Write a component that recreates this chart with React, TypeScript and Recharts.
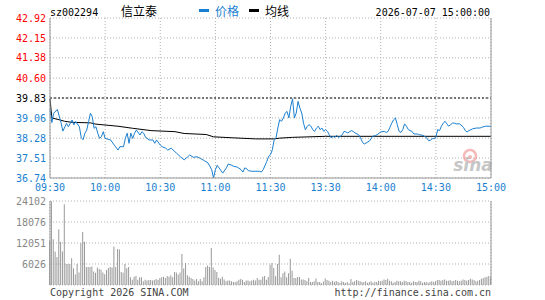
import { LineChart, Line, BarChart, Bar, XAxis, YAxis, CartesianGrid, ReferenceLine } from 'recharts';

const stockCode = 'sz002294';
const stockName = '信立泰';
const stamp = '2026-07-07 15:00:00';
const legendPrice = '价格';
const legendAvg = '均线';
const copyright = 'Copyright 2026 SINA.COM';
const siteUrl = 'http://finance.sina.com.cn';

const prevClose = 39.83;
const priceTicks = [36.74, 37.51, 38.28, 39.06, 39.83, 40.6, 41.38, 42.15, 42.92];
const pctLabels = ['-7.76%', '-5.82%', '-3.88%', '-1.94%', '0.00%', '+1.94%', '+3.88%', '+5.82%', '+7.76%'];
const timeTicks = [0, 30, 60, 90, 120, 150, 180, 210, 240];
const timeLabels = ['09:30', '10:00', '10:30', '11:00', '11:30', '13:30', '14:00', '14:30', '15:00'];
const volumeTicks = [0, 6026, 12051, 18076, 24102];

// minute index from the open (0 = 09:30, 120 = 11:30/13:00, 240 = 15:00)
const priceMinutes = [
  0, 1, 2, 4, 6, 7, 9, 10, 12, 13, 14, 16, 17, 18, 19, 20, 21, 22, 23, 24, 25, 26, 27, 28, 29, 30,
  33, 35, 37, 38, 40, 41, 42, 43, 44, 45, 46, 47, 49, 50, 51, 52, 54, 56, 57, 58, 60, 61, 63, 64,
  66, 67, 69, 71, 73, 75, 76, 78, 80, 82, 84, 86, 88, 89, 90, 91, 92, 94, 96, 97, 99, 100, 102,
  104, 105, 106, 107, 108, 110, 112, 114, 115, 116, 118, 119, 120, 121, 122, 123, 124, 125, 126,
  127, 128, 129, 130, 131, 132, 133, 134, 135, 136, 137, 138, 139, 140, 141, 142, 143, 144, 145,
  146, 147, 148, 149, 150, 151, 152, 153, 154, 155, 156, 157, 158, 159, 160, 161, 162, 164, 165,
  166, 168, 169, 170, 171, 172, 174, 175, 176, 177, 178, 180, 182, 183, 184, 185, 186, 187, 188,
  189, 190, 191, 192, 193, 194, 195, 196, 197, 198, 200, 201, 203, 205, 206, 207, 208, 209, 210,
  211, 212, 213, 214, 215, 216, 217, 218, 219, 220, 221, 223, 225, 226, 227, 228, 230, 232, 234,
  235, 237, 239, 240,
];
const prices = [
  39.4, 38.88, 39.24, 39.39, 38.88, 38.55, 38.85, 38.72, 38.98, 38.79, 38.92, 38.72, 38.3, 38.22,
  38.47, 38.59, 38.92, 39.24, 39.11, 38.66, 38.72, 38.47, 38.27, 38.34, 38.53, 38.27,
  38.21, 38.01, 37.82, 37.95, 37.95, 38.27, 38.47, 38.08, 38.47, 38.27, 38.47, 38.59, 38.4, 38.53,
  38.47, 38.31, 38.21, 38.21, 38.08, 38.21, 38.01, 37.95, 37.89, 37.82,
  37.89, 37.82, 37.69, 37.56, 37.44, 37.56, 37.63, 37.54, 37.56, 37.49, 37.41, 37.32, 37.06, 36.74,
  37.06, 37.23, 37.13, 36.93, 37.13, 37.28, 37.23, 37.19, 37.16,
  37.06, 36.97, 37.13, 37.1, 37.02, 37.0, 37.0, 37.0, 36.97, 37.06, 37.38, 37.58, 37.64, 37.83,
  38.22, 38.29, 38.67, 39.0, 38.93,
  39.06, 39.25, 39.31, 39.06, 39.51, 39.8, 39.06, 39.25, 39.7, 39.44, 39.25, 38.85, 38.6, 38.74,
  38.8, 38.74, 38.61, 38.54, 38.67,
  38.74, 38.61, 38.67, 38.54, 38.61, 38.54, 38.41, 38.29, 38.35, 38.31, 38.39, 38.31, 38.35,
  38.41, 38.54, 38.52, 38.48, 38.57, 38.54,
  38.48, 38.41, 38.29, 38.13, 38.05, 38.09, 38.18, 38.29, 38.37, 38.37, 38.41, 38.52, 38.54,
  38.5, 38.54, 38.7, 38.86, 38.99, 39.06,
  38.8, 38.54, 38.5, 38.61, 38.83, 38.74, 38.61, 38.57, 38.54, 38.44, 38.44, 38.41, 38.39, 38.29,
  38.18, 38.2, 38.26, 38.26, 38.31,
  38.61, 38.57, 38.74, 38.86, 38.93, 38.83, 38.74, 38.8, 38.86, 38.86, 38.83, 38.83, 38.7, 38.57,
  38.52, 38.57, 38.64, 38.67, 38.67,
  38.7, 38.74, 38.74, 38.73,
];

const avgMinutes = [0, 1, 5, 8, 12, 22, 25, 37, 45, 55, 68, 73, 85, 89, 100, 112, 122, 125, 132, 150, 240];
const avgPrices = [
  39.8, 39.06, 38.99, 38.93, 38.89, 38.87, 38.82, 38.74, 38.66, 38.57, 38.53, 38.46, 38.42, 38.33,
  38.29, 38.25, 38.25, 38.28, 38.31, 38.35, 38.35,
];

const volumes = [
  12600, 24000, 13100, 9600, 8000, 16000, 12400, 9600, 23200, 6000, 6000, 6000, 7700, 4800, 3000,
  6000, 3600, 12000, 15200, 12400, 5200, 5200, 5200, 5300, 3900, 3500, 5000, 4600, 4400, 3600, 3100,
  4300, 4900, 5200, 5000, 11000, 5200, 10300, 10200, 3700, 3500, 6000, 4800, 5200, 2200, 1500,
  2400, 2600, 1500, 2200, 2200, 1100, 1500, 1300, 1400, 1400, 1300, 1400, 1700, 1400, 2000,
  2200, 2400, 2000, 2600, 2400, 2800, 2200, 3700, 3600, 3000, 3600, 8900, 4700, 6300, 2800,
  2400, 2000, 1700, 1300, 1700, 1100, 1700, 1100, 2200, 5200, 5600, 5200, 10600, 5000, 4300,
  3700, 2100, 1800, 2400, 1600, 1100, 1300, 1300, 1100, 850, 850, 1100, 1500, 1700, 1500,
  850, 1300, 1300, 1100, 1300, 1500, 1300, 2000, 1500, 1500, 2400, 2600, 1500, 2300, 5800,
  6300, 4900, 2500, 6000, 8700, 2200, 3400, 3900, 2200, 3400, 7500, 4100, 2000, 2000, 2300,
  2300, 1600, 1600, 1400, 1100, 2000, 850, 850, 1100, 1900, 850, 850, 500, 1000, 1900,
  1400, 1200, 860, 1240, 900, 1150, 860, 670, 1050, 860, 670, 860, 480, 1700, 860,
  1050, 1400, 1240, 1050, 860, 860, 1050, 670, 860, 1050, 670, 950, 860, 1240, 1050,
  1240, 1600, 1435, 1800, 1240, 1050, 670, 860, 1240, 1050, 1050, 860, 1240, 1050, 860,
  860, 670, 1050, 860, 860, 1240, 1050, 670, 860, 860, 670, 860, 1050, 860, 1050,
  1435, 1435, 1240, 1435, 1600, 1240, 1240, 1435, 1050, 1240, 1435, 1240, 1050, 1240, 1600,
  1435, 1240, 1435, 1800, 1600, 1435, 1050, 1240, 1435, 1800, 2000, 2200, 2400, 2600, 2200,
];

const RED = '#ff0000';
const BLUE = '#1a7fd0';
const FRAME = '#999999';
const GRID = '#b0b0b0';
const MONO = '"DejaVu Sans Mono", monospace';
const CJK = '"Noto Sans CJK SC", sans-serif';

const priceByMin = new Map(priceMinutes.map((t, i) => [t, prices[i]]));
const avgByMin = new Map(avgMinutes.map((t, i) => [t, avgPrices[i]]));
const allMinutes = Array.from(new Set([...priceMinutes, ...avgMinutes])).sort((a, b) => a - b);
const priceData = allMinutes.map((t) => ({
  t,
  price: priceByMin.has(t) ? priceByMin.get(t) : null,
  avg: avgByMin.has(t) ? avgByMin.get(t) : null,
}));
const volumeData = volumes.map((v, t) => ({ t, v }));

const tickColor = (v: number) => (v > prevClose ? RED : v < prevClose ? BLUE : '#000');

function PriceTick(props: any) {
  const { x, y, payload } = props;
  const v = payload.value as number;
  return (
    <text x={x} y={y} dy={3.6} textAnchor="end" fill={tickColor(v)} fontSize={10} fontFamily={MONO}>
      {v.toFixed(2)}
    </text>
  );
}

function PctTick(props: any) {
  const { x, y, payload } = props;
  const v = payload.value as number;
  const idx = priceTicks.indexOf(v);
  return (
    <text x={x} y={y} dy={3.6} textAnchor="start" fill={tickColor(v)} fontSize={10} fontFamily={MONO}>
      {pctLabels[idx]}
    </text>
  );
}

function TimeTick(props: any) {
  const { x, y, payload } = props;
  const idx = timeTicks.indexOf(payload.value);
  return (
    <text x={x} y={y} dy={7.5} textAnchor="middle" fill={BLUE} fontSize={10} fontFamily={MONO}>
      {timeLabels[idx]}
    </text>
  );
}

function VolTick(props: any) {
  const { x, y, payload } = props;
  if (!payload.value) return <g />;
  return (
    <text x={x} y={y} dy={3.6} textAnchor="end" fill="#888" fontSize={10} fontFamily={MONO}>
      {payload.value}
    </text>
  );
}

export default function App() {
  return (
    <div style={{ position: 'absolute', left: 0, top: 0, width: 545, height: 300, background: '#fff' }}>
      <div style={{ position: 'absolute', left: 0, top: 0 }}>
        <LineChart width={545} height={198} data={priceData} margin={{ top: 18, right: 0, bottom: 0, left: 0 }}>
          <CartesianGrid yAxisId="left" stroke={GRID} strokeDasharray="1 2" />
          <XAxis
            xAxisId="top"
            orientation="top"
            type="number"
            dataKey="t"
            domain={[0, 240]}
            height={0}
            tick={false}
            tickLine={false}
            axisLine={{ stroke: FRAME }}
          />
          <XAxis
            type="number"
            dataKey="t"
            domain={[0, 240]}
            ticks={timeTicks}
            interval={0}
            height={20}
            tickSize={0}
            tickMargin={5}
            tickLine={false}
            axisLine={{ stroke: FRAME }}
            tick={(p: any) => <TimeTick {...p} />}
          />
          <YAxis
            yAxisId="left"
            width={50}
            domain={[36.74, 42.92]}
            ticks={priceTicks}
            interval={0}
            tickSize={4}
            tickMargin={0}
            tickLine={false}
            axisLine={{ stroke: FRAME }}
            tick={(p: any) => <PriceTick {...p} />}
          />
          <YAxis
            yAxisId="right"
            orientation="right"
            width={54}
            domain={[36.74, 42.92]}
            ticks={priceTicks}
            interval={0}
            tickSize={4}
            tickMargin={0}
            tickLine={false}
            axisLine={{ stroke: FRAME }}
            tick={(p: any) => <PctTick {...p} />}
          />
          <ReferenceLine yAxisId="left" y={prevClose} stroke="#000" strokeDasharray="2 2" />
          <Line
            yAxisId="left"
            type="linear"
            dataKey="avg"
            stroke="#000"
            strokeWidth={1}
            dot={false}
            connectNulls
            isAnimationActive={false}
          />
          <Line
            yAxisId="left"
            type="linear"
            dataKey="price"
            stroke={BLUE}
            strokeWidth={1}
            dot={false}
            connectNulls
            isAnimationActive={false}
          />
        </LineChart>
      </div>

      <div style={{ position: 'absolute', left: 0, top: 190 }}>
        <BarChart width={545} height={110} data={volumeData} margin={{ top: 11, right: 0, bottom: 15, left: 0 }}>
          <CartesianGrid yAxisId="left" stroke={GRID} strokeDasharray="1 2" />
          <XAxis
            xAxisId="top"
            orientation="top"
            type="number"
            dataKey="t"
            domain={[0, 240]}
            height={0}
            tick={false}
            tickLine={false}
            axisLine={{ stroke: FRAME }}
          />
          <XAxis
            type="number"
            dataKey="t"
            domain={[0, 240]}
            ticks={timeTicks}
            interval={0}
            height={0}
            tick={false}
            tickLine={false}
            axisLine={{ stroke: FRAME }}
          />
          <YAxis
            yAxisId="left"
            width={50}
            domain={[0, 24102]}
            ticks={volumeTicks}
            interval={0}
            tickSize={4}
            tickMargin={0}
            tickLine={false}
            axisLine={{ stroke: FRAME }}
            tick={(p: any) => <VolTick {...p} />}
          />
          <YAxis
            yAxisId="right"
            orientation="right"
            width={54}
            domain={[0, 24102]}
            tick={false}
            tickLine={false}
            axisLine={{ stroke: FRAME }}
          />
          <Bar yAxisId="left" dataKey="v" fill="#999" barSize={1} isAnimationActive={false} />
        </BarChart>
      </div>

      <svg width={545} height={300} style={{ position: 'absolute', left: 0, top: 0, pointerEvents: 'none' }}>
        <text x={50} y={15.5} fontSize={10} fontFamily={MONO} fill="#000">{stockCode}</text>
        <text x={121} y={16} fontSize={12} fontFamily={CJK} fill="#000">{stockName}</text>
        <rect x={199} y={9} width={10} height={3} fill={BLUE} />
        <text x={215} y={16} fontSize={12} fontFamily={CJK} fill={BLUE}>{legendPrice}</text>
        <rect x={249} y={9} width={10} height={3} fill="#000" />
        <text x={265} y={16} fontSize={12} fontFamily={CJK} fill="#000">{legendAvg}</text>
        <text x={490} y={15.5} textAnchor="end" fontSize={10} fontFamily={MONO} fill="#000">{stamp}</text>

        <g opacity={0.55}>
          <circle cx={470} cy={156} r={6} fill="none" stroke="#f08080" strokeWidth={2.5} />
          <circle cx={470} cy={157} r={2} fill="#f08080" />
          <text x={473} y={171} textAnchor="middle" fontSize={17} fontStyle="italic" fontWeight="bold" fontFamily="'DejaVu Sans', sans-serif" fill="#999">sina</text>
        </g>

        <text x={50} y={295.5} fontSize={10} fontFamily={MONO} fill="#444">{copyright}</text>
        <text x={491} y={295.5} textAnchor="end" fontSize={10} fontFamily={MONO} fill="#444">{siteUrl}</text>
      </svg>
    </div>
  );
}
